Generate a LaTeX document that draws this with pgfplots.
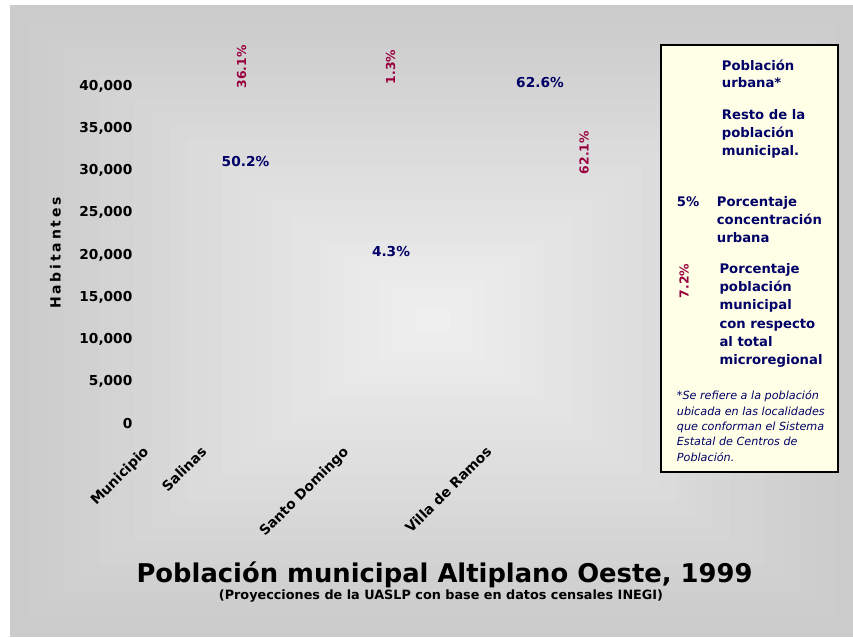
\documentclass[border=0pt]{standalone}
\usepackage{pgfplots}
\pgfplotsset{compat=1.18}
\usepackage{fontspec}
\setmainfont{DejaVu Sans}
\newfontfamily\labfont[LetterSpace=20]{DejaVu Sans}
\definecolor{navy}{HTML}{000066}
\definecolor{crim}{HTML}{99003D}
\definecolor{gout}{HTML}{CBCBCB}
\definecolor{gin}{HTML}{EFEFEF}
\definecolor{legfill}{HTML}{FFFFE8}
\newcommand\fs[1]{\fontsize{#1}{#1}\selectfont}
\newcommand\lline[4]{\node[anchor=base west, inner sep=0pt, font=#1] at (#2,637-#3) {#4};}
\begin{document}
\begin{tikzpicture}[x=1pt,y=1pt]
\useasboundingbox (0,0) rectangle (853,637);
\fill[white] (0,0) rectangle (853,637);
\fill[gout] (10,0) rectangle (853,632);
\foreach \i in {0,...,23}{
  \pgfmathsetmacro\t{1-\i/24}
  \pgfmathsetmacro\p{\i/23*100}
  \fill[gin!\p!gout] ({432-420*\t},{317-310*\t}) rectangle ({432+420*\t},{317+310*\t});
}
\begin{axis}[
  at={(140pt,192pt)}, anchor=south west,
  scale only axis, width=510pt, height=405pt,
  xmin=140, xmax=650, ymin=-2485, ymax=45443,
  clip=false,
  axis line style={draw=none}, tick style={draw=none},
  ytick={0,5000,...,40000},
  scaled y ticks=false,
  /pgf/number format/assume math mode=true,
  /pgf/number format/1000 sep={,},
  yticklabel style={font=\bfseries\fs{13.7}, anchor=east, inner sep=0pt, xshift=-7.5pt},
  xtick={142,200,342,485},
  xticklabels={Municipio,Salinas,Santo Domingo,Villa de Ramos},
  xticklabel style={font=\bfseries\fs{13.8}, rotate=45, anchor=north east, inner sep=0pt},
]
\addplot[only marks, mark=none, point meta=explicit,
  nodes near coords={\pgfmathprintnumber[fixed,fixed zerofill,precision=1]{\pgfplotspointmeta}\%},
  every node near coord/.append style={anchor=center, inner sep=0pt, font=\bfseries\fs{13.7}, text=navy}]
  table[meta=pct] {
x y pct
245.5 31005 50.2
391 20355 4.3
540 40354 62.6
};
\addplot[only marks, mark=none, point meta=explicit,
  nodes near coords={\pgfmathprintnumber[fixed,fixed zerofill,precision=1]{\pgfplotspointmeta}\%},
  every node near coord/.append style={anchor=center, inner sep=0pt, rotate=90, font=\bfseries\fs{12.4}, text=crim}]
  table[meta=pct] {
x y pct
241.5 42248 36.1
390.7 42248 1.3
584 32130 62.1
};
\end{axis}
\node[rotate=90, inner sep=0pt, font=\labfont\bfseries\fs{14}] at (55.5,637-253) {Habitantes};
% legend box
\draw[line width=1.2pt, fill=legfill] (661,637-45) rectangle (838,637-472);
\begin{scope}[text=navy]
\lline{\bfseries\fs{13.2}}{721.7}{70.5}{Población}
\lline{\bfseries\fs{13.2}}{721.7}{87.7}{urbana*}
\lline{\bfseries\fs{13.2}}{721.7}{120}{Resto de la}
\lline{\bfseries\fs{13.2}}{721.7}{138}{población}
\lline{\bfseries\fs{13.2}}{721.7}{156}{municipal.}
\lline{\bfseries\fs{13.2}}{676.7}{206.7}{5\%}
\lline{\bfseries\fs{13.2}}{716.7}{206.7}{Porcentaje}
\lline{\bfseries\fs{13.2}}{716.7}{225}{concentración}
\lline{\bfseries\fs{13.2}}{716.7}{242.7}{urbana}
\lline{\bfseries\fs{13.2}}{719.3}{273.3}{Porcentaje}
\lline{\bfseries\fs{13.2}}{719.3}{291.6}{población}
\lline{\bfseries\fs{13.2}}{719.3}{310}{municipal}
\lline{\bfseries\fs{13.2}}{719.3}{328.3}{con respecto}
\lline{\bfseries\fs{13.2}}{719.3}{346.6}{al total}
\lline{\bfseries\fs{13.2}}{719.3}{365}{microregional}
\lline{\itshape\fs{11.2}}{676.7}{400}{*Se refiere a la población}
\lline{\itshape\fs{11.2}}{676.7}{415.3}{ubicada en las localidades}
\lline{\itshape\fs{11.2}}{676.7}{430.6}{que conforman el Sistema}
\lline{\itshape\fs{11.2}}{676.7}{446}{Estatal de Centros de}
\lline{\itshape\fs{11.2}}{676.7}{461.3}{Población.}
\end{scope}
\node[rotate=90, inner sep=0pt, text=crim, font=\bfseries\fs{12.4}] at (684,637-281) {7.2\%};
% titles
\node[anchor=base, inner sep=0pt, font=\bfseries\fs{25.8}] at (444.5,637-582) {Población municipal Altiplano Oeste, 1999};
\node[anchor=base, inner sep=0pt, font=\bfseries\fs{12.8}] at (441,637-599) {(Proyecciones de la UASLP con base en datos censales INEGI)};
\end{tikzpicture}
\end{document}
